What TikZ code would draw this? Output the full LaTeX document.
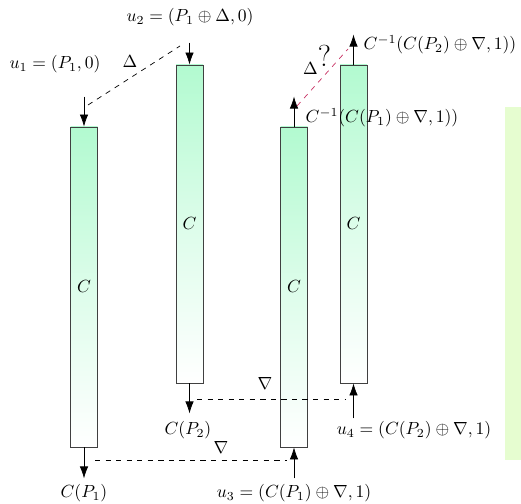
\documentclass[tikz,border=0pt]{standalone}
\usepackage{tikz}
\usetikzlibrary{arrows, arrows.meta, positioning, calc}
\usepackage{amsmath}
\usepackage[svgnames]{xcolor}

\definecolor{mint}{RGB}{178,250,208}
\definecolor{pale}{RGB}{230,253,208}
\definecolor{rosered}{RGB}{200,50,100}

\tikzset{
    cipher/.style={draw=black!75, line width=0.5pt, top color=mint, bottom color=white,
        middle color=mint!45, minimum width=0.54cm, inner sep=0pt},
    io/.style={-{Latex[length=2.4mm, width=1.7mm]}}
}

\begin{document}
\begin{tikzpicture}
        \useasboundingbox (0,0) rectangle (10.42,10.08);

        % side strip
        \fill[pale] (10.1,0.88) rectangle (10.42,7.94);

        % blocks
        \node[cipher, minimum height=6.4cm]  (c1) at (1.68,4.34) {$C$};
        \node[cipher, minimum height=6.36cm] (c2) at (3.79,5.6)  {$C$};
        \node[cipher, minimum height=6.4cm]  (c3) at (5.88,4.34) {$C$};
        \node[cipher, minimum height=6.36cm] (c4) at (7.07,5.6)  {$C$};

        % inputs
        \node (u1) at (1.1,8.8)  {$u_1 = (P_1, 0)$};
        \node (u2) at (3.8,9.74) {$u_2 = (P_1 \oplus \Delta, 0)$};
        \coordinate (in1) at ($(c1.north)+(0,0.6)$);
        \coordinate (in2) at ($(c2.north)+(0,0.44)$);
        \draw[io] (in1) -- (c1.north);
        \draw[io] (in2) -- (c2.north);

        \coordinate (d1) at (1.76,7.98);
        \coordinate (d2) at (3.6,9.16);
        \draw[dashed] (d1) -- (d2);
        \node (delta) at (2.6,8.84) {$\Delta$};

        % outputs
        \coordinate (out1) at ($(c1.south)+(0,-0.62)$);
        \coordinate (out2) at ($(c2.south)+(0,-0.6)$);
        \draw[io] (c1.south) -- (out1);
        \draw[io] (c2.south) -- (out2);
        \node (cp1) at (1.68,0.22) {$C(P_1)$};
        \node (cp2) at (3.76,1.48) {$C(P_2)$};

        % modified ciphertexts
        \coordinate (in3) at ($(c3.south)+(0,-0.62)$);
        \coordinate (in4) at ($(c4.south)+(0,-0.7)$);
        \draw[io] (in3) -- (c3.south);
        \draw[io] (in4) -- (c4.south);
        \node (u3) at (5.88,0.22) {$u_3 = (C(P_1) \oplus \nabla, 1)$};
        \node (u4) at (8.28,1.48) {$u_4 = (C(P_2) \oplus \nabla, 1)$};

        \coordinate (n1a) at (1.9,0.88);
        \coordinate (n1b) at (5.74,0.88);
        \draw[dashed] (n1a) -- (n1b);
        \node (nabla1) at (4.42,1.14) {$\nabla$};
        \coordinate (n2a) at (3.94,2.1);
        \coordinate (n2b) at (6.9,2.1);
        \draw[dashed] (n2a) -- (n2b);
        \node (nabla2) at (5.3,2.4) {$\nabla$};

        % decryptions
        \coordinate (dec3) at ($(c3.north)+(0,0.6)$);
        \coordinate (dec4) at ($(c4.north)+(0,0.6)$);
        \draw[io] (c3.north) -- (dec3);
        \draw[io] (c4.north) -- (dec4);
        \node (p3) at (7.64,7.72) {$C^{-1}(C(P_1) \oplus \nabla, 1))$};
        \node (p4) at (8.8,9.18)  {$C^{-1}(C(P_2) \oplus \nabla, 1))$};

        \coordinate (q1) at (5.94,7.96);
        \coordinate (q2) at (6.96,9.1);
        \draw[dashed, rosered] (q1) -- (q2);
        \node (guess) at (6.34,8.88) {$\Delta$\raisebox{1.1ex}{\LARGE ?}};
    \end{tikzpicture}
\end{document}
